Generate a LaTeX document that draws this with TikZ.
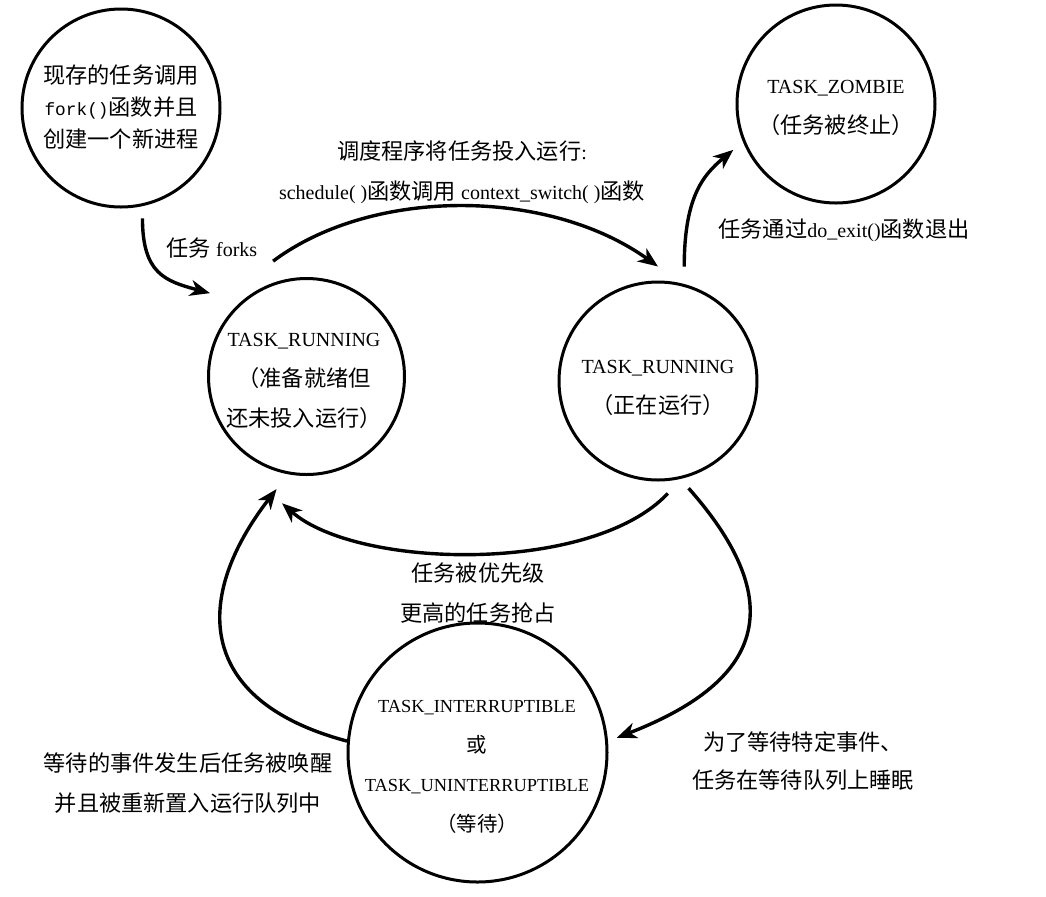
\documentclass[tikz,border=0pt]{standalone}
\usepackage{fontspec}
\setmainfont{Liberation Serif}
\newfontfamily\zhfont{Noto Sans CJK SC}[Scale=1.11]
\newfontfamily\monofont{Liberation Mono}[Scale=0.89]
\usetikzlibrary{arrows.meta}
\newcommand\zh[1]{{\zhfont #1}}
\begin{document}
\begin{tikzpicture}[x=0.5pt,y=-0.5pt,
  state/.style={circle,draw,line width=1.5pt,inner sep=0pt},
  txt/.style={align=center,font=\fontsize{10}{20}\selectfont,inner sep=0pt},
  arr/.style={line width=1.7pt,-{Stealth[length=10pt,width=8pt,inset=3pt]}}]
\useasboundingbox (0,0) rectangle (1046,896);
% states
\node[state,minimum size=99pt] (fork) at (121,108) {};
\node[state,minimum size=99pt] (zombie) at (836,104) {};
\node[state,minimum size=98pt] (ready) at (306.5,376.5) {};
\node[state,minimum size=99pt] (run) at (658,381) {};
\node[state,minimum size=129.5pt] (wait) at (477.5,752.5) {};
% state texts
\node[txt,font=\fontsize{10}{16}\selectfont] (forktxt) at (121,107.5)
  {\zh{现存的任务调用}\\{\monofont fork()}\zh{函数并且}\\\zh{创建一个新进程}};
\node[txt] (zombietxt) at (836,108) {TASK\_ZOMBIE\\\zh{（任务被终止）}};
\node[txt] (readytxt) at (304,381) {TASK\_RUNNING\\\zh{（准备就绪但}\\\zh{还未投入运行）}};
\node[txt] (runtxt) at (658,387.5) {TASK\_RUNNING\\\zh{（正在运行）}};
\node[txt,font=\fontsize{9.2}{19.8}\selectfont] (waittxt) at (477,767)
  {TASK\_INTERRUPTIBLE\\\zh{或}\\TASK\_UNINTERRUPTIBLE\\\zh{（等待）}};
% connector labels
\node[txt] (lfork) at (212,248) {\zh{任务} forks};
\node[txt] (lsched) at (462,172) {\zh{调度程序将任务投入运行}:\\schedule( )\zh{函数调用} context\_switch( )\zh{函数}};
\node[txt] (lexit) at (844,230) {\zh{任务通过}do\_exit()\zh{函数退出}};
\node[txt] (lpre) at (478,593) {\zh{任务被优先级}\\\zh{更高的任务抢占}};
\node[txt] (lwake) at (188,783) {\zh{等待的事件发生后任务被唤醒}\\\zh{并且被重新置入运行队列中}};
\node[txt,font=\fontsize{10}{19}\selectfont] (lsleep) at (803,761) {\zh{为了等待特定事件、}\\\zh{任务在等待队列上睡眠}};
% connectors
\draw[arr] ([shift={(-79:6pt)}]fork.-79) .. controls +(0,55) and +(-45,-12) .. ([shift={(139.8:14pt)}]ready.139.8);
\draw[arr] ([shift={(106.9:10.3pt)}]ready.106.9) .. controls +(99,-74) and +(-110,-79) .. ([shift={(90:7pt)}]run.90);
\draw[arr] ([shift={(77.5:8.4pt)}]run.77.5) .. controls +(0,-70) and +(-30,25) .. ([shift={(204.5:6pt)}]zombie.204.5);
\draw[arr] ([shift={(-85.4:6.2pt)}]run.-85.4) .. controls +(-76,81) and +(75,66) .. ([shift={(259.4:14.8pt)}]ready.259.4);
\draw[arr] ([shift={(-74.7:5.5pt)}]run.-74.7) .. controls +(115,130) and +(126,-49) .. ([shift={(6.4:4.5pt)}]wait.6.4);
\draw[arr] (wait.175.7) .. controls +(-150,-40) and +(-85,110) .. ([shift={(255.7:8.5pt)}]ready.255.7);
\end{tikzpicture}
\end{document}
